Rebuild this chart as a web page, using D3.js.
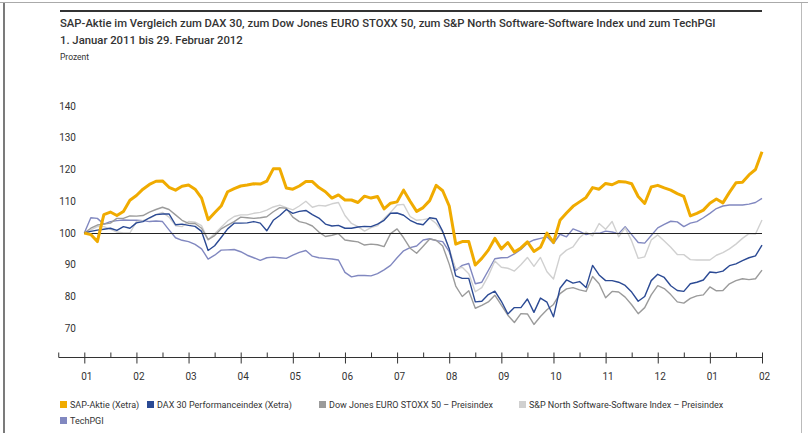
<!DOCTYPE html>
<html>
<head>
<meta charset="utf-8">
<script src="https://cdn.jsdelivr.net/npm/d3@7"></script>
<style>
  body { margin: 0; background: #fff; }
  svg { display: block; }
  text { font-family: Roboto, "Open Sans", sans-serif; fill: #333; }
</style>
</head>
<body>
<div class="chart"></div>
<script>
// month labels, Jan 2011 .. Feb 2012
var monthLabels = ["01","02","03","04","05","06","07","08","09","10","11","12","01","02"];
var yTicks = [70, 80, 90, 100, 110, 120, 130, 140];

// values, one every eighth of a month
var sapValues = [100,99.5,97.3,105.8,106.6,105.5,106.8,110.3,111.8,113.8,115.3,116.3,116.4,114.4,113.5,114.7,115.1,113.8,111,104.2,
  106.4,108.5,113,114,114.8,115.1,115.5,115.4,116.3,120.2,120.2,114.2,113.8,114.8,116.2,116.2,114.3,113,111,112,
  110.4,110.4,109.6,111.6,111,111.5,107.6,109.4,109.8,113.5,110,106.8,108,110.2,115,113.3,108.5,96.5,97.3,97.3,
  89.9,92,94.6,98.3,95,97,94,95.3,97.2,94.2,95.5,100,97,104,106.3,108.4,109.8,111.2,114.3,113.8,
  115.6,115.2,116.2,116.1,115.5,111.5,109.3,114.5,115,114.2,113.5,112.4,111.5,105.4,106.2,107.2,109.4,110.7,109.5,112.8,
  115.8,116,118.3,120,125.6];
var daxValues = [100,100.5,100.9,101.2,101.5,100.8,102,101.5,103.2,103.6,104.8,105.8,106,106,102.6,102.8,102.4,102.1,100.5,94.5,
  96,98.6,101.3,103.1,103.1,103.2,103.6,103.1,100.7,104,105.5,107.4,106.2,106.8,107.1,105.8,104.7,102.8,102.2,102.4,
  101.5,101.5,101.9,102.1,102,102.8,104,106.2,106.3,105.6,104,103,102.6,104.8,104.5,100.5,95,86.5,85.7,85.7,
  78.3,78.5,80.6,81.7,78.5,74.5,76.5,76.5,79.2,75,79.5,78.2,73.6,82.6,85.2,84.2,84.7,82.8,89.8,86.8,
  85,85,84.5,83.5,81.4,78.5,80,85,87,86,83.4,81.9,81.6,84,84.5,85.2,87.7,87.5,88,89.7,
  90.3,91.3,92.2,92.8,96.2];
var stoxxValues = [100,101.5,102.5,102.8,103.1,104.6,104.6,105.4,105.3,105.5,106.6,107.4,108.1,107.4,105.7,104,103,103,101.5,97.9,
  99.2,101.3,102.5,103.6,105,104.8,104.6,104.8,105.1,106.7,108,107.8,105,103.6,103.1,102.2,100.3,98.9,99.3,99.8,
  97.8,97.5,97.2,96.2,96.5,96.3,95.7,99.8,101.3,98.5,95.2,93.6,95.8,98.1,97.7,95.9,90.2,83.3,80,81.8,
  76.3,77.2,78.3,80.4,77.3,74.1,71.8,74.6,74.5,71.2,73.7,75.8,77.5,80.9,82.4,82.8,82.1,81.6,86.3,84,
  79.6,81.6,81.4,79.8,77.4,74.6,76.5,80.5,83.4,82.5,80.6,78.3,77.9,79.4,80.2,80.5,83,81.8,81.9,84,
  85,85.6,85.3,85.6,88.3];
var spValues = [100,101,102,102,101.2,100.3,100,100,103.6,103.9,104.6,105.8,106.5,105,102.3,102,103.6,103.4,102.3,97.9,
  99.8,101.8,103.8,105.2,105.7,105.7,106.2,106.5,107.2,108.2,108.8,108,107.3,108.5,110,108.1,108.7,108.5,109.2,109.6,
  105.5,103,102,100.6,101.7,102.3,104.6,106.5,108.8,109,105.2,104,104.2,104.6,103,100.2,95,88.7,89.2,87.2,
  81.5,82.8,86.5,91.2,89.2,88.9,88,90,92.3,89.5,92.3,87.8,85.5,92.8,94.6,95.6,98.5,100.3,99.1,103,
  101.2,103.6,98.8,101.6,97.5,92,92.5,97.8,99.4,97.5,95.5,93.2,93.2,91.6,91.5,91.5,91.5,93,93.8,95,
  96.5,98.3,99.8,99.7,104.1];
var techValues = [100,104.8,104.6,102.8,103.6,103.9,104.1,104,104,103.9,103.6,103.8,103.6,101,98.5,97.7,97.3,96.4,95,91.8,
  93,94.6,94.7,94.8,94.1,93,92.2,91.4,92.2,92.4,92.2,92,93,93.9,94.5,92.7,92.2,92,91.8,91.5,
  87.6,86.2,86.6,86.6,86.5,87.2,88.4,89.8,92.2,94.4,95.4,95.9,97.8,98.2,97.6,97.3,94.1,88.2,89.8,90.4,
  84,84.5,88.2,91.9,92.2,92.3,93.4,94.8,96.8,97.8,98.3,98.8,96.7,99.6,98.8,101.3,100.5,99.5,99.9,99.9,
  100.6,100.3,99.8,102,99.5,97,96.8,99.2,101.6,102.7,103.7,103.5,102,103.1,103.6,104.8,106.2,107.7,108.5,108.8,
  108.8,108.8,109.1,109.6,110.9];

var seriesNames = ["SAP-Aktie (Xetra)", "DAX 30 Performanceindex (Xetra)", "Dow Jones EURO STOXX 50 \u2013 Preisindex", "S&P North Software-Software Index \u2013 Preisindex", "TechPGI"];
var seriesColors = ["#f0ab00", "#2b4a94", "#9b9b9b", "#d0d0d0", "#8188c0"];

var W = 808, H = 433;
var svg = d3.select(".chart").append("svg")
    .attr("width", W)
    .attr("height", H);

// frame
svg.append("line").attr("x1", 0).attr("x2", W).attr("y1", 2.5).attr("y2", 2.5)
    .attr("stroke", "#aaa").attr("stroke-width", 1);
svg.append("line").attr("x1", 4).attr("x2", 4).attr("y1", 3).attr("y2", H)
    .attr("stroke", "#222").attr("stroke-width", 1.2);
svg.append("line").attr("x1", 801.5).attr("x2", 801.5).attr("y1", 3).attr("y2", H)
    .attr("stroke", "#bbb").attr("stroke-width", 1);
svg.append("line").attr("x1", 60).attr("x2", 762).attr("y1", 11).attr("y2", 11)
    .attr("stroke", "#333").attr("stroke-width", 2);

// titles
svg.append("text").attr("x", 60).attr("y", 27)
    .style("font-size", "11.3px").style("font-weight", 500)
    .text("SAP-Aktie im Vergleich zum DAX 30, zum Dow Jones EURO STOXX 50, zum S&P North Software-Software Index und zum TechPGI");
svg.append("text").attr("x", 60).attr("y", 44)
    .style("font-size", "11.3px").style("font-weight", 500)
    .text("1. Januar 2011 bis 29. Februar 2012");
svg.append("text").attr("x", 60).attr("y", 60)
    .style("font-size", "8.5px")
    .text("Prozent");

// scales: x in months since 1 Jan 2011
var x = d3.scaleLinear().domain([0, 13]).range([84.3, 762]);
var y = d3.scaleLinear().domain([100, 140]).range([233, 106]);
var axisY = 357.5;

// y labels
svg.append("g").selectAll("text")
    .data(yTicks)
  .enter().append("text")
    .attr("x", 76)
    .attr("y", function(d) { return y(d); })
    .attr("dy", "0.35em")
    .attr("text-anchor", "end")
    .style("font-size", "10px")
    .text(function(d) { return d; });

// x axis
var xAxis = d3.axisBottom(x)
    .tickValues(d3.range(0, 14))
    .tickSize(6)
    .tickPadding(9)
    .tickFormat(function(d, i) { return monthLabels[i]; });

var gx = svg.append("g")
    .attr("class", "x axis")
    .attr("transform", "translate(0," + axisY + ")")
    .call(xAxis);
gx.select(".domain").remove();
gx.selectAll(".tick line").attr("y1", -5).attr("stroke", "#333");
gx.selectAll(".tick text")
    .attr("dx", 2)
    .style("font-size", "10px")
    .style("font-family", "Roboto, sans-serif")
    .attr("fill", "#333");

var minorAxis = d3.axisTop(x)
    .tickValues(d3.range(-0.5, 13, 1))
    .tickSize(5)
    .tickFormat("");
var gm = svg.append("g")
    .attr("transform", "translate(0," + axisY + ")")
    .call(minorAxis);
gm.select(".domain").remove();
gm.selectAll(".tick line").attr("stroke", "#333");

svg.append("line")
    .attr("x1", x(-0.49)).attr("x2", x(13))
    .attr("y1", axisY).attr("y2", axisY)
    .attr("stroke", "#333").attr("stroke-width", 1);

// lines
var allSeries = [sapValues, daxValues, stoxxValues, spValues, techValues];
var line = d3.line()
    .x(function(d, i) { return x(i / 8); })
    .y(function(d) { return y(d); });

var drawOrder = [4, 3, 2, 1];
drawOrder.forEach(function(k) {
  svg.append("path")
      .datum(allSeries[k])
      .attr("fill", "none")
      .attr("stroke", seriesColors[k])
      .attr("stroke-width", 1.4)
      .attr("stroke-linejoin", "round")
      .attr("d", line);
});

// 100 line
svg.append("line")
    .attr("x1", x(0)).attr("x2", x(13))
    .attr("y1", y(100) + 0.5).attr("y2", y(100) + 0.5)
    .attr("stroke", "#222").attr("stroke-width", 1);

svg.append("path")
    .datum(sapValues)
    .attr("fill", "none")
    .attr("stroke", seriesColors[0])
    .attr("stroke-width", 3)
    .attr("stroke-linejoin", "round")
    .attr("d", line);

// legend
var legendPos = [[60, 405], [147, 405], [319, 405], [519, 405], [60, 421]];
var legend = svg.append("g").selectAll("g")
    .data(seriesNames)
  .enter().append("g")
    .attr("transform", function(d, i) { return "translate(" + legendPos[i][0] + "," + legendPos[i][1] + ")"; });
legend.append("rect")
    .attr("x", 0).attr("y", -4)
    .attr("width", 7).attr("height", 7)
    .attr("fill", function(d, i) { return seriesColors[i]; });
legend.append("text")
    .attr("x", 10)
    .attr("y", 0)
    .attr("dy", "0.35em")
    .style("font-size", "9px")
    .text(function(d) { return d; });
</script>
</body>
</html>
